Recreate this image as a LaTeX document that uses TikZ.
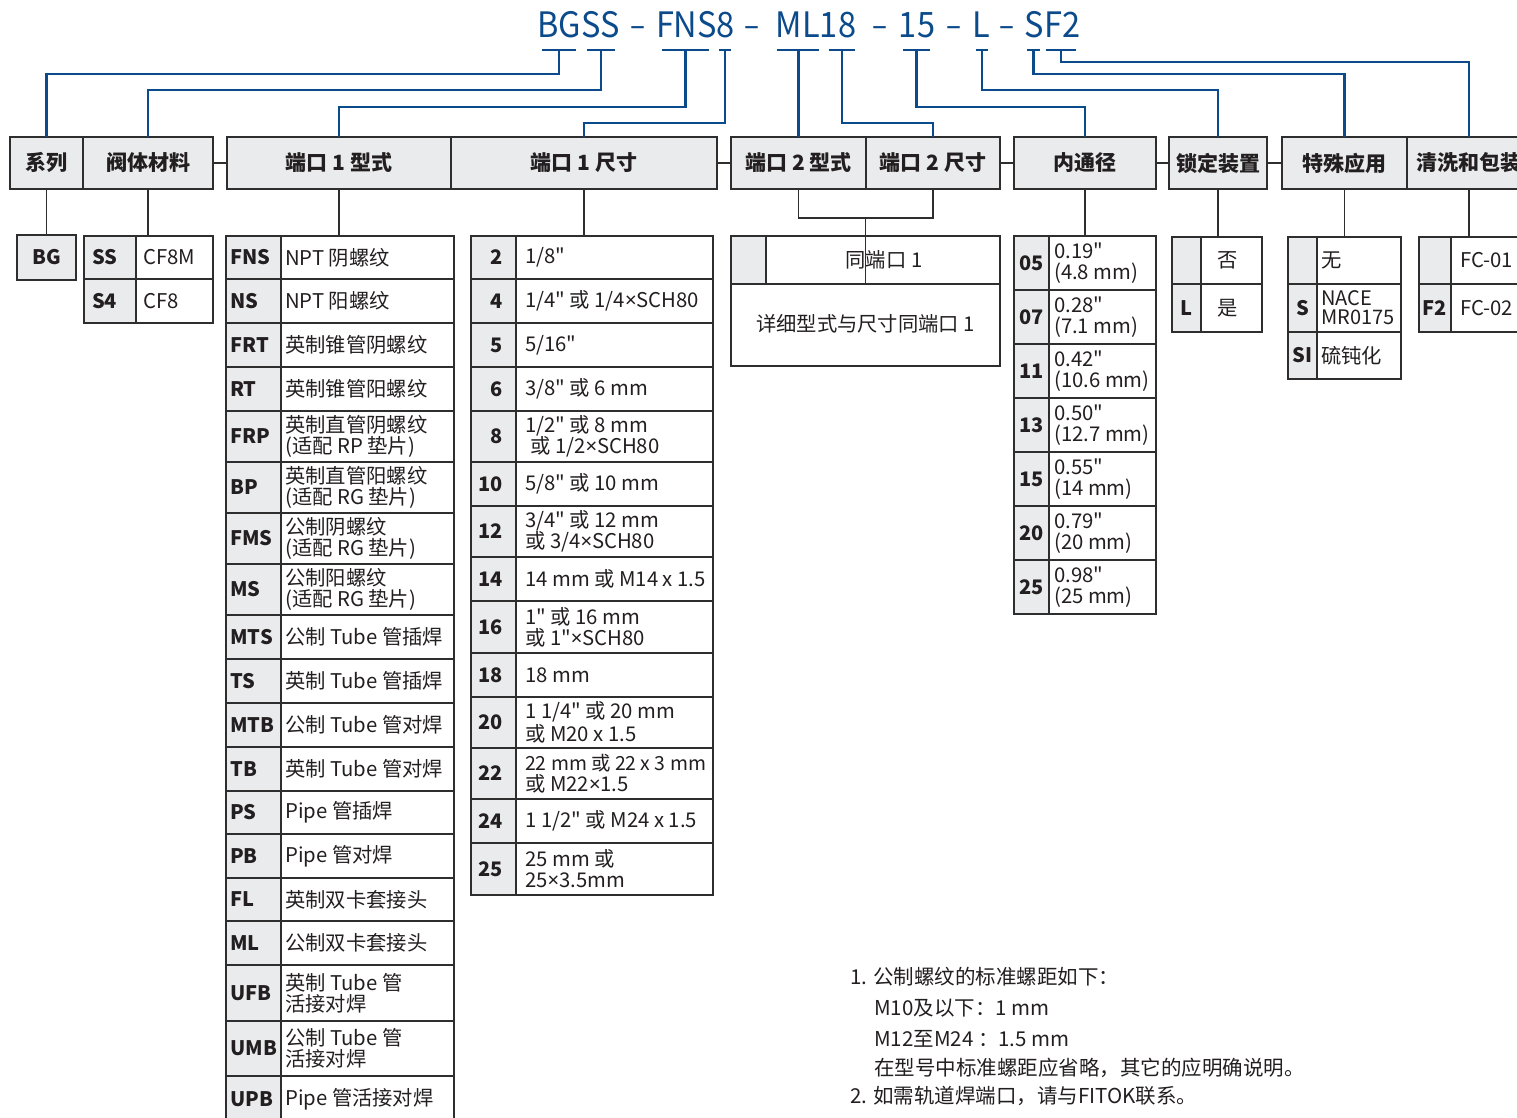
\documentclass[tikz,border=0pt]{standalone}
\usepackage{fontspec}
\setmainfont{Noto Sans CJK SC}[Ligatures=TeXOff]
\newfontfamily\latf{Noto Sans}[Ligatures=TeXOff]
\newcommand\tms{{\latf ×}}
\usetikzlibrary{fit,calc}
\definecolor{tblue}{HTML}{0B4A8B}
\definecolor{kgray}{HTML}{EAEBEC}
\definecolor{lc}{HTML}{2E2E2E}
\definecolor{tc}{HTML}{231F20}

% generic two-column table row: name, xL, xM, xR, yT, yB
\newcommand\cells[6]{%
  \node[kcell, fit={(#2,#5)(#3,#6)}] (#1k) {};
  \node[vcell, fit={(#3,#5)(#4,#6)}] (#1v) {};
}
% port-1 type table
\newcommand\typerow[5]{%
  \cells{#1}{226}{281}{454}{#2}{#3}
  \node[ktxt, anchor=west] (#1kt) at ([xshift=4pt]#1k.west) {#4};
  \node[vtxt, anchor=west] (#1vt) at ([xshift=4pt]#1v.west) {#5};
}
% port-1 size table
\newcommand\sizerow[5]{%
  \cells{#1}{471}{516}{713}{#2}{#3}
  \node[ktxt, anchor=east] (#1kt) at ([xshift=-13pt]#1k.east) {#4};
  \node[vtxt, anchor=west] (#1vt) at ([xshift=9pt]#1v.west) {#5};
}
% bore table
\newcommand\borerow[5]{%
  \cells{#1}{1014}{1049}{1156}{#2}{#3}
  \node[ktxt, anchor=east] (#1kt) at ([xshift=-5pt]#1k.east) {#4};
  \node[vtxt, anchor=west] (#1vt) at ([xshift=5pt]#1v.west) {#5};
}
% header box with centred title: name, x1, x2, text
\newcommand\hdrbox[4]{%
  \node[hdr, fit={(#2,137)(#3,189)}] (#1) {};
  \node[htxt] (#1t) at (#1.center) {#4};
}

\begin{document}
\begin{tikzpicture}[x=1pt,y=-1pt,
  cell/.style={draw=lc, line width=1.8pt, inner sep=0pt, outer sep=0pt},
  kcell/.style={cell, fill=kgray},
  vcell/.style={cell, fill=white},
  hdr/.style={cell, fill=kgray, line width=1.6pt},
  htxt/.style={font=\bfseries\fontsize{21}{24}\selectfont, text=tc, inner sep=0pt},
  ktxt/.style={font=\bfseries\fontsize{20}{22}\selectfont, text=tc, inner sep=0pt},
  vtxt/.style={font=\fontsize{20.3}{21}\selectfont, text=tc, inner sep=0pt, align=left},
  ttl/.style={font=\fontsize{35}{40}\selectfont, text=tblue, inner sep=0pt, anchor=base},
  bl/.style={draw=tblue, line width=2.4pt},
  gl/.style={draw=lc, line width=1.6pt},
  note/.style={font=\fontsize{20.5}{22}\selectfont, text=tc, inner sep=0pt, anchor=west}
]
\useasboundingbox (0,0) rectangle (1517,1118);
\clip (0,0) rectangle (1517,1118);
\fill[white] (0,0) rectangle (1517,1118);

% ---------- title ----------
\node[ttl] (tBGSS) at (578.5,38) {\scalebox{0.93}[1]{BGSS}};
\node[ttl] (tD1)   at (637.5,38) {\scalebox{0.8}[1]{–}};
\node[ttl] (tFNS8) at (695.5,38) {\scalebox{0.93}[1]{FNS8}};
\node[ttl] (tD2)   at (752,38)   {\scalebox{0.8}[1]{–}};
\node[ttl] (tML18) at (816,38)   {\scalebox{0.93}[1]{ML18}};
\node[ttl] (tD3)   at (880,38)   {\scalebox{0.8}[1]{–}};
\node[ttl] (t15)   at (917,38)   {\scalebox{0.93}[1]{15}};
\node[ttl] (tD4)   at (954,38)   {\scalebox{0.8}[1]{–}};
\node[ttl] (tL)    at (981.5,38) {\scalebox{0.93}[1]{L}};
\node[ttl] (tD5)   at (1007,38)  {\scalebox{0.8}[1]{–}};
\node[ttl] (tSF2)  at (1052.5,38){\scalebox{0.93}[1]{SF2}};

% underline segments
\draw[bl] (542,50) -- (576,50);
\draw[bl] (587,50) -- (615,50);
\draw[bl] (662,50) -- (709,50);
\draw[bl] (719,50) -- (731,50);
\draw[bl] (777,50) -- (819,50);
\draw[bl] (829,50) -- (855,50);
\draw[bl] (903,50) -- (930,50);
\draw[bl] (976,50) -- (988,50);
\draw[bl] (1027,50) -- (1040,50);
\draw[bl] (1046,50) -- (1076,50);
\coordinate (uBG) at (559,50);
\coordinate (uSS) at (601,50);
\coordinate (uFNS) at (685.5,50);
\coordinate (u8) at (725,50);
\coordinate (uML) at (798.5,50);
\coordinate (u18) at (842,50);
\coordinate (u15) at (916.5,50);
\coordinate (uL) at (982,50);
\coordinate (uS) at (1033.5,50);
\coordinate (uF2) at (1061,50);

% ---------- header ----------
\hdrbox{h1}{10}{83}{系列}
\hdrbox{h2}{83}{213}{阀体材料}
\hdrbox{h3}{227}{451}{端口 1 型式}
\hdrbox{h4}{451}{717}{端口 1 尺寸}
\hdrbox{h5}{731}{866}{端口 2 型式}
\hdrbox{h6}{866}{1000}{端口 2 尺寸}
\hdrbox{h7}{1014}{1156}{内通径}
\hdrbox{h8}{1169}{1267}{锁定装置}
\hdrbox{h9}{1282}{1407}{特殊应用}
\hdrbox{h10}{1407}{1531}{清洗和包装}

\draw[gl] (h2.east) -- (h3.west);
\draw[gl] (h4.east) -- (h5.west);
\draw[gl] (h6.east) -- (h7.west);
\draw[gl] (h7.east) -- (h8.west);
\draw[gl] (h8.east) -- (h9.west);

% blue connectors
\draw[bl] (uBG) -- (uBG |- 0,74) -| (h1.north);
\draw[bl] (uSS) -- (uSS |- 0,90) -| (h2.north);
\draw[bl] (uFNS) -- (uFNS |- 0,107) -| (h3.north);
\draw[bl] (u8) -- (u8 |- 0,123) -| (h4.north);
\draw[bl] (uML) -- (uML |- h5.north);
\draw[bl] (u18) -- (u18 |- 0,123) -| (h6.north);
\draw[bl] (u15) -- (u15 |- 0,107) -| (h7.north);
\draw[bl] (uL) -- (uL |- 0,90) -| (h8.north);
\draw[bl] (uS) -- (uS |- 0,74) -| (h9.north);
\draw[bl] (uF2) -- (uF2 |- 0,62) -| (h10.north);

% ---------- series ----------
\node[kcell, fit={(17,235)(76,280)}] (bg) {};
\node[ktxt] (bgt) at (bg.center) {BG};
\draw[gl] (h1.south) -- (bg.north);

% ---------- material ----------
\cells{mSS}{84}{136}{213}{236}{279}
\node[ktxt, anchor=west] (mSSkt) at ([xshift=8pt]mSSk.west) {SS};
\node[vtxt, anchor=west] (mSSvt) at ([xshift=7pt]mSSv.west) {CF8M};
\cells{mS4}{84}{136}{213}{279}{323}
\node[ktxt, anchor=west] (mS4kt) at ([xshift=8pt]mS4k.west) {S4};
\node[vtxt, anchor=west] (mS4vt) at ([xshift=7pt]mS4v.west) {CF8};
\draw[gl] (h2.south) -- (h2.south |- mSSv.north);

% ---------- port 1 type ----------
\typerow{tFNS}{236}{279}{FNS}{NPT 阴螺纹}
\typerow{tNS}{279}{323}{NS}{NPT 阳螺纹}
\typerow{tFRT}{323}{367}{FRT}{英制锥管阴螺纹}
\typerow{tRT}{367}{411}{RT}{英制锥管阳螺纹}
\typerow{tFRP}{411}{462}{FRP}{英制直管阴螺纹\\(适配 RP 垫片)}
\typerow{tBP}{462}{513}{BP}{英制直管阳螺纹\\(适配 RG 垫片)}
\typerow{tFMS}{513}{564}{FMS}{公制阴螺纹\\(适配 RG 垫片)}
\typerow{tMS}{564}{615}{MS}{公制阳螺纹\\(适配 RG 垫片)}
\typerow{tMTS}{615}{659}{MTS}{公制 Tube 管插焊}
\typerow{tTS}{659}{703}{TS}{英制 Tube 管插焊}
\typerow{tMTB}{703}{747}{MTB}{公制 Tube 管对焊}
\typerow{tTB}{747}{791}{TB}{英制 Tube 管对焊}
\typerow{tPS}{791}{834}{PS}{Pipe 管插焊}
\typerow{tPB}{834}{878}{PB}{Pipe 管对焊}
\typerow{tFL}{878}{921}{FL}{英制双卡套接头}
\typerow{tML}{921}{965}{ML}{公制双卡套接头}
\typerow{tUFB}{965}{1021}{UFB}{英制 Tube 管\\活接对焊}
\typerow{tUMB}{1021}{1076}{UMB}{公制 Tube 管\\活接对焊}
\typerow{tUPB}{1076}{1122}{UPB}{Pipe 管活接对焊}
\draw[gl] (h3.south) -- (h3.south |- tFNSv.north);

% ---------- port 1 size ----------
\sizerow{sA}{236}{279}{2}{1/8"}
\sizerow{sB}{279}{323}{4}{1/4" 或 1/4\tms SCH80}
\sizerow{sC}{323}{367}{5}{5/16"}
\sizerow{sD}{367}{411}{6}{3/8" 或 6 mm}
\sizerow{sE}{411}{462}{8}{1/2" 或 8 mm\\\hspace*{5pt}或 1/2\tms SCH80}
\sizerow{sF}{462}{506}{10}{5/8" 或 10 mm}
\sizerow{sG}{506}{557}{12}{3/4" 或 12 mm\\或 3/4\tms SCH80}
\sizerow{sH}{557}{601}{14}{14 mm 或 M14 x 1.5}
\sizerow{sI}{601}{653}{16}{1" 或 16 mm\\或 1"\tms SCH80}
\sizerow{sJ}{653}{697}{18}{18 mm}
\sizerow{sK}{697}{748}{20}{1 1/4" 或 20 mm\\[2pt]或 M20 x 1.5}
\sizerow{sL}{748}{799}{22}{\fontsize{19.4}{21}\selectfont 22 mm 或 22 x 3 mm\\或 M22\tms 1.5}
\sizerow{sM}{799}{843}{24}{1 1/2" 或 M24 x 1.5}
\sizerow{sN}{843}{895}{25}{25 mm 或\\25\tms 3.5mm}
\draw[gl] (h4.south) -- (h4.south |- sAv.north);

% ---------- port 2 ----------
\node[kcell, fit={(731,236)(766,284)}] (p2k) {};
\node[vcell, fit={(766,236)(1000,284)}] (p2v) {};
\node[vtxt] (p2vt) at ([xshift=1pt]p2v.center) {同端口 1};
\node[vcell, fit={(731,284)(1000,366)}] (p2b) {};
\node[vtxt] (p2bt) at ([yshift=1pt]p2b.center) {详细型式与尺寸同端口 1};
\coordinate (p2j) at (865.5,218);
\draw[gl] (h5.south) -- ++(0,29) -| (h6.south);
\draw[gl] (p2j) -- (p2j |- p2b.north);

% ---------- bore ----------
\borerow{b05}{236}{290}{05}{0.19"\\(4.8 mm)}
\borerow{b07}{290}{344}{07}{0.28"\\(7.1 mm)}
\borerow{b11}{344}{398}{11}{0.42"\\(10.6 mm)}
\borerow{b13}{398}{452}{13}{0.50"\\(12.7 mm)}
\borerow{b15}{452}{506}{15}{0.55"\\(14 mm)}
\borerow{b20}{506}{560}{20}{0.79"\\(20 mm)}
\borerow{b25}{560}{614}{25}{0.98"\\(25 mm)}
\draw[gl] (h7.south) -- (h7.south |- b05v.north);

% ---------- lock ----------
\cells{lA}{1172}{1201}{1262}{237}{284}
\node[vtxt] (lAvt) at ([xshift=-4pt]lAv.center) {否};
\cells{lB}{1172}{1201}{1262}{284}{332}
\node[ktxt] (lBkt) at (lBk) {L};
\node[vtxt] (lBvt) at ([xshift=-4pt]lBv.center) {是};
\draw[gl] (h8.south) -- (h8.south |- lAv.north);

% ---------- special ----------
\cells{xA}{1288}{1317}{1401}{237}{284}
\node[vtxt, anchor=west] (xAvt) at ([xshift=4pt]xAv.west) {无};
\cells{xB}{1288}{1317}{1401}{284}{332}
\node[ktxt] (xBkt) at (xBk) {S};
\node[vtxt, anchor=west, font=\fontsize{20}{19}\selectfont] (xBvt) at ([xshift=4pt]xBv.west) {NACE\\MR0175};
\cells{xC}{1288}{1317}{1401}{332}{379}
\node[ktxt] (xCkt) at (xCk) {SI};
\node[vtxt, anchor=west] (xCvt) at ([xshift=4pt]xCv.west) {硫钝化};
\draw[gl] (h9.south) -- (h9.south |- xAk.north);

% ---------- cleaning ----------
\cells{cA}{1419}{1451}{1560}{237}{284}
\node[vtxt, anchor=west] (cAvt) at ([xshift=9pt]cAv.west) {FC-01};
\cells{cB}{1419}{1451}{1560}{284}{332}
\node[ktxt] (cBkt) at (cBk) {F2};
\node[vtxt, anchor=west] (cBvt) at ([xshift=9pt]cBv.west) {FC-02};
\draw[gl] (h10.south) -- (h10.south |- cAv.north);

% ---------- notes ----------
\node[note] (n1) at (850,977) {1. 公制螺纹的标准螺距如下：};
\node[note] (n2) at (874,1008) {M10及以下：1 mm};
\node[note] (n3) at (874,1039) {M12至M24 ：1.5 mm};
\node[note] (n4) at (874,1068) {在型号中标准螺距应省略，其它的应明确说明。};
\node[note] (n5) at (850,1096) {2. 如需轨道焊端口，请与FITOK联系。};
\end{tikzpicture}
\end{document}
